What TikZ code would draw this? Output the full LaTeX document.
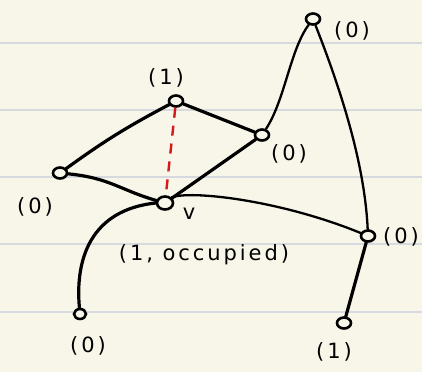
\documentclass[tikz,border=0pt]{standalone}
\usepackage{fontspec}
\setmainfont{DejaVu Sans}[LetterSpace=14]
\definecolor{paper}{HTML}{F8F6E9}
\definecolor{rule}{HTML}{D6D9DD}
\definecolor{redline}{HTML}{D41A1A}
\tikzset{
  vtx/.style={draw, line width=2.6pt, ellipse, minimum width=14pt, minimum height=11pt, inner sep=0pt, fill=paper},
  lbl/.style={font=\fontsize{21}{23}\selectfont, inner sep=0pt},
  edge/.style={line width=3.2pt, line cap=round},
  thinedge/.style={line width=2.3pt, line cap=round},
}
\usetikzlibrary{shapes.geometric}
\begin{document}
\begin{tikzpicture}[x=1pt,y=-1pt]
\fill[paper] (0,0) rectangle (422,372);
\useasboundingbox (0,0) rectangle (422,372);
\foreach \yy in {43,110,177,244,312} \draw[rule, line width=1.2pt] (0,\yy) -- (422,\yy);
% nodes
\node[vtx] (T) at (313,19) {};
\node[vtx] (A) at (176,101) {};
\node[vtx] (B) at (262,135) {};
\node[vtx] (L) at (60,173) {};
\node[vtx, minimum width=16pt, minimum height=13pt] (V) at (165,203) {};
\node[vtx] (R) at (368,236) {};
\node[vtx, minimum width=12pt, minimum height=10pt] (BL) at (80,314) {};
\node[vtx] (BR) at (344,323) {};
% labels
\node[lbl] (lT) at (352,31) {(0)};
\node[lbl] (lA) at (166,78) {(1)};
\node[lbl] (lB) at (289,154) {(0)};
\node[lbl] (lL) at (35,207) {(0)};
\node[lbl] (lV) at (189,214) {v};
\node[lbl] (lV2) at (204,255) {(1, occupied)};
\node[lbl] (lR) at (401,237) {(0)};
\node[lbl] (lBL) at (88,346) {(0)};
\node[lbl] (lBR) at (334,352) {(1)};
% edges
\draw[edge] (A) -- (B);
\draw[edge] (A) to[bend right=4] (L);
\draw[edge] (L) .. controls (110,178) and (120,190) .. (V);
\draw[edge] (B) -- (V);
\draw[redline, line width=2.4pt, dash pattern=on 10pt off 8pt] (A) -- (V);
\draw[thinedge] (B) .. controls (285,100) and (290,50) .. (T);
\draw[thinedge] (T) .. controls (345,100) and (365,170) .. (R);
\draw[thinedge] (V.north east) .. controls (190,190) and (280,200) .. (R);
\draw[edge] (V.west) .. controls (90,210) and (75,260) .. (BL);
\draw[edge] (R) -- (BR);
\end{tikzpicture}
\end{document}
